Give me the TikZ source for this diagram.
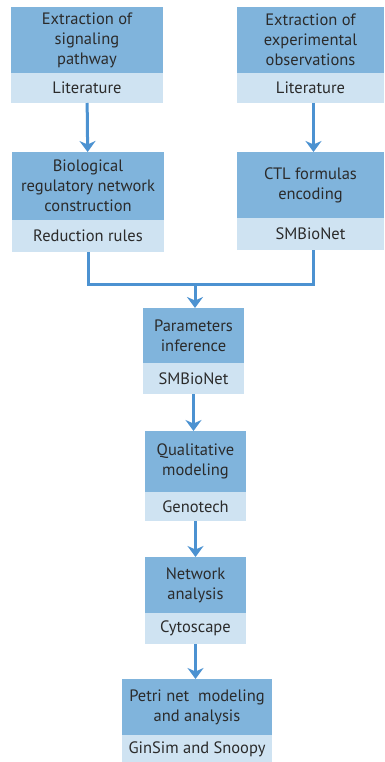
\documentclass[tikz,border=0pt]{standalone}
\usepackage{fontspec}
\setmainfont{PT Sans}
\usepackage{tikz}
\usetikzlibrary{positioning,arrows.meta}

\definecolor{boxdark}{HTML}{80B4DC}
\definecolor{boxlight}{HTML}{CFE3F2}
\definecolor{flow}{HTML}{4C92D1}
\definecolor{ink}{HTML}{2B2B2B}

\tikzset{
  head/.style={fill=boxdark, text=ink, align=center, inner sep=0pt, outer sep=0pt,
    minimum width=#1, font=\fontsize{16.5}{20}\selectfont},
  tool/.style={fill=boxlight, text=ink, align=center, inner sep=0pt, outer sep=0pt,
    minimum width=#1, font=\fontsize{16.5}{20}\selectfont},
  flowline/.style={draw=flow, line width=3pt},
  flowarrow/.style={flowline, -{Stealth[length=11pt,width=16pt,inset=3.5pt]}}
}

\begin{document}
\begin{tikzpicture}[x=1pt,y=-1pt]
 \useasboundingbox (0,0) rectangle (384,762);
 % top row
 \node (sig) [head=152pt, minimum height=66pt] at (87,40) {Extraction of\\signaling\\pathway};
 \node (siglit) [tool=152pt, minimum height=30pt, below=0pt of sig] {Literature};
 \node (obs) [head=147pt, minimum height=66pt] at (310.5,40) {Extraction of\\experimental\\observations};
 \node (obslit) [tool=147pt, minimum height=30pt, below=0pt of obs] {Literature};
 % second row
 \node (brn) [head=152pt, minimum height=68pt] at (88,186) {Biological\\regulatory network\\construction};
 \node (brnred) [tool=152pt, minimum height=32pt, below=0pt of brn] {Reduction rules};
 \node (ctl) [head=147pt, minimum height=66pt] at (310.5,185) {CTL formulas\\encoding};
 \node (ctlsmb) [tool=147pt, minimum height=32pt, below=0pt of ctl] {SMBioNet};
 % main column
 \node (par) [head=101pt, minimum height=55pt] at (193.5,335.5) {Parameters\\inference};
 \node (parsmb) [tool=101pt, minimum height=31pt, below=0pt of par] {SMBioNet};
 \node (qual) [head=101pt, minimum height=61pt] at (195.5,461.5) {Qualitative\\modeling};
 \node (qualgen) [tool=101pt, minimum height=29pt, below=0pt of qual] {Genotech};
 \node (net) [head=101pt, minimum height=56pt] at (195.5,585) {Network\\analysis};
 \node (netcyt) [tool=101pt, minimum height=31pt, below=0pt of net] {Cytoscape};
 \node (petri) [head=150pt, minimum height=56pt] at (197,707) {Petri net\ \ modeling\\and analysis};
 \node (petrisim) [tool=150pt, minimum height=28pt, below=0pt of petri] {GinSim and Snoopy};

 \coordinate (merge) at (195,284);
 \draw[flowarrow] (siglit) -- (brn);
 \draw[flowarrow] (obslit.south) ++(3,0) coordinate (obsout) -- (obsout |- ctl.north);
 \draw[flowline] (brnred.south) |- (merge) -| ([xshift=3pt]ctlsmb.south);
 \draw[flowarrow] (merge) -- (merge |- par.north);
 \draw[flowarrow] (parsmb.south) -- (parsmb.south |- qual.north);
 \draw[flowarrow] (qualgen) -- (net);
 \draw[flowarrow] (netcyt.south) -- (netcyt.south |- petri.north);
\end{tikzpicture}
\end{document}
